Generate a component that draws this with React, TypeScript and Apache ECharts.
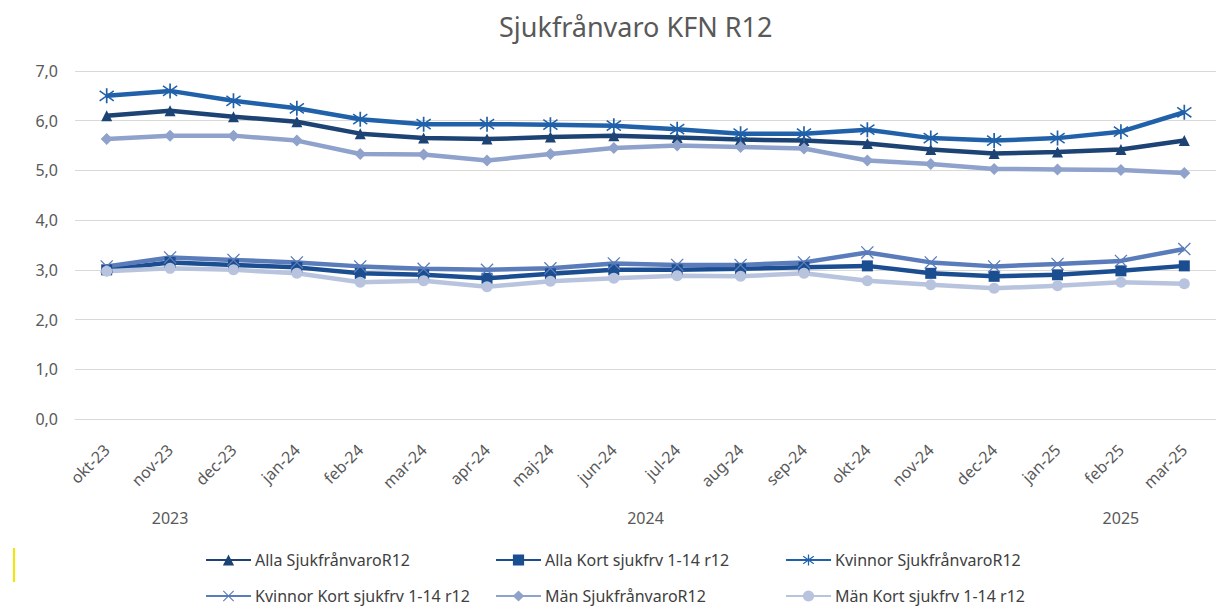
import React, { useEffect, useRef } from "react";
import * as echarts from "echarts";

const categories = [
  "okt-23", "nov-23", "dec-23", "jan-24", "feb-24", "mar-24", "apr-24", "maj-24", "jun-24",
  "jul-24", "aug-24", "sep-24", "okt-24", "nov-24", "dec-24", "jan-25", "feb-25", "mar-25",
];
const yearGroups = [
  { label: "2023", from: 0, to: 2 },
  { label: "2024", from: 3, to: 14 },
  { label: "2025", from: 15, to: 17 },
];

const allaSjuk = [6.1, 6.2, 6.08, 5.98, 5.74, 5.65, 5.63, 5.67, 5.7, 5.66, 5.62, 5.6, 5.54, 5.42, 5.34, 5.37, 5.42, 5.6];
const allaKort = [3.0, 3.15, 3.1, 3.05, 2.93, 2.9, 2.83, 2.92, 3.0, 3.0, 3.02, 3.05, 3.08, 2.93, 2.87, 2.9, 2.98, 3.08];
const kvinnorSjuk = [6.5, 6.6, 6.4, 6.25, 6.03, 5.93, 5.93, 5.92, 5.9, 5.83, 5.74, 5.74, 5.82, 5.65, 5.6, 5.65, 5.78, 6.17];
const kvinnorKort = [3.07, 3.25, 3.2, 3.15, 3.07, 3.02, 3.0, 3.03, 3.13, 3.1, 3.1, 3.15, 3.35, 3.15, 3.07, 3.12, 3.18, 3.42];
const manSjuk = [5.63, 5.7, 5.7, 5.6, 5.33, 5.32, 5.2, 5.33, 5.45, 5.5, 5.47, 5.44, 5.2, 5.13, 5.03, 5.02, 5.01, 4.95];
const manKort = [2.97, 3.03, 3.0, 2.93, 2.75, 2.78, 2.66, 2.77, 2.83, 2.88, 2.87, 2.93, 2.78, 2.7, 2.63, 2.68, 2.75, 2.72];

const yTicks = { min: 0, max: 7, interval: 1 };

const STAR =
  "path://M9 0 L11 0 L11 20 L9 20 Z M1.2 4.2 L2.2 2.5 L18.8 15.8 L17.8 17.5 Z M17.8 2.5 L18.8 4.2 L2.2 17.5 L1.2 15.8 Z";
const XMARK = "path://M1.4 0 L10 8.6 L18.6 0 L20 1.4 L11.4 10 L20 18.6 L18.6 20 L10 11.4 L1.4 20 L0 18.6 L8.6 10 L0 1.4 Z";

const seriesDefs = [
  { name: "Alla SjukfrånvaroR12", data: allaSjuk, color: "#1C4373", symbol: "triangle", size: 11 },
  { name: "Alla Kort sjukfrv 1-14 r12", data: allaKort, color: "#1B4D91", symbol: "rect", size: 11 },
  { name: "Kvinnor SjukfrånvaroR12", data: kvinnorSjuk, color: "#2161A9", symbol: STAR, size: 15 },
  { name: "Kvinnor Kort sjukfrv 1-14 r12", data: kvinnorKort, color: "#5A7CBA", symbol: XMARK, size: 13 },
  { name: "Män SjukfrånvaroR12", data: manSjuk, color: "#8FA2CC", symbol: "diamond", size: 12 },
  { name: "Män Kort sjukfrv 1-14 r12", data: manKort, color: "#B8C3DE", symbol: "circle", size: 11 },
];

const FONT = "'Noto Sans', sans-serif";

export default function App() {
  const ref = useRef<HTMLDivElement>(null);
  useEffect(() => {
    if (!ref.current) return;
    const chart = echarts.init(ref.current, undefined, { renderer: "svg" });
    const legendPos = [
      { left: 200, top: 547 },
      { left: 490, top: 547 },
      { left: 780, top: 547 },
      { left: 200, top: 583 },
      { left: 490, top: 583 },
      { left: 780, top: 583 },
    ];
    chart.setOption({
      animation: false,
      backgroundColor: "#ffffff",
      title: {
        text: "Sjukfrånvaro KFN R12",
        left: 494,
        top: 8,
        textStyle: { color: "#595959", fontSize: 27, fontWeight: "normal", fontFamily: FONT },
      },
      grid: { left: 75, top: 71, width: 1148, height: 348, containLabel: false },
      xAxis: {
        type: "category",
        data: categories,
        boundaryGap: true,
        axisLine: { show: true, lineStyle: { color: "#d9d9d9" } },
        axisTick: { show: false },
        axisLabel: { rotate: 45, color: "#595959", fontSize: 16, fontFamily: FONT, margin: 28, interval: 0 },
      },
      yAxis: {
        type: "value",
        min: yTicks.min,
        max: yTicks.max,
        interval: yTicks.interval,
        axisLine: { show: false },
        axisTick: { show: false },
        splitLine: { lineStyle: { color: "#d9d9d9", width: 1 } },
        axisLabel: {
          color: "#595959",
          fontSize: 16,
          fontFamily: FONT,
          margin: 17,
          formatter: (v: number) => v.toFixed(1).replace(".", ","),
        },
      },
      legend: legendPos.map((p, i) => ({
        data: [seriesDefs[i].name],
        left: p.left,
        top: p.top,
        itemWidth: 45,
        itemHeight: 14,
        itemGap: 0,
        textStyle: { color: "#404040", fontSize: 16, fontFamily: FONT, padding: [0, 0, 0, -1] },
        selectedMode: false,
      })),
      series: seriesDefs.map((s) => ({
        name: s.name,
        type: "line",
        data: s.data,
        symbol: s.symbol,
        symbolSize: s.size,
        showSymbol: true,
        lineStyle: { color: s.color, width: 4.5 },
        itemStyle: { color: s.color, borderWidth: 0 },
        emphasis: { disabled: true },
      })),
    });
    const graphics: any[] = yearGroups.map((g) => {
      const x1 = chart.convertToPixel({ xAxisIndex: 0 }, g.from) as number;
      const x2 = chart.convertToPixel({ xAxisIndex: 0 }, g.to) as number;
      return {
        type: "text",
        x: (x1 + x2) / 2,
        y: 518,
        style: {
          text: g.label,
          fill: "#595959",
          fontSize: 16,
          fontFamily: FONT,
          textAlign: "center",
          textVerticalAlign: "middle",
        },
      };
    });
    graphics.push({ type: "rect", shape: { x: 13, y: 548, width: 2, height: 34 }, style: { fill: "#f5e600" } });
    chart.setOption({ graphic: graphics });
    return () => chart.dispose();
  }, []);
  return <div ref={ref} style={{ position: "absolute", left: 0, top: 0, width: 1216, height: 610 }} />;
}
